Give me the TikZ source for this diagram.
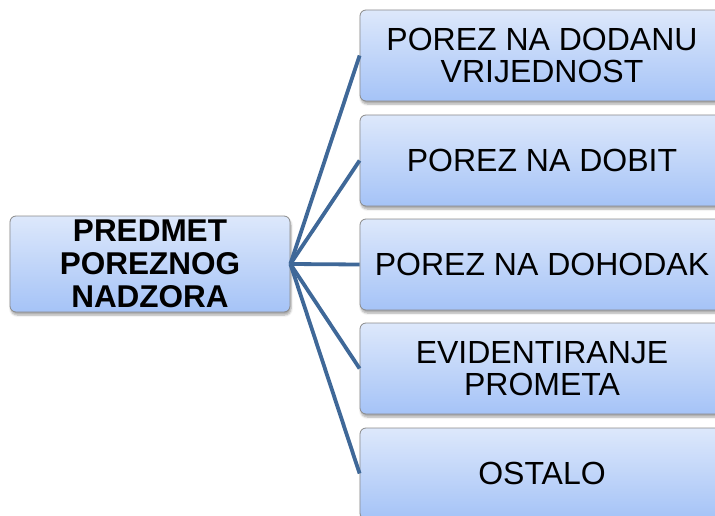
\documentclass[tikz,border=0pt]{standalone}
\usepackage{fontspec}
\setmainfont{Liberation Sans}
\usetikzlibrary{shadows.blur}
\definecolor{boxtop}{HTML}{DDE8FB}
\definecolor{boxbot}{HTML}{A5C3F7}
\definecolor{boxline}{HTML}{8A8A8A}
\definecolor{conn}{HTML}{3F6898}
\tikzset{
  box/.style={draw=boxline, line width=0.8pt, rounded corners=6pt,
    top color=boxtop, bottom color=boxbot, align=center, inner sep=0pt,
    blur shadow={shadow xshift=1pt, shadow yshift=-3pt, shadow opacity=35, shadow blur steps=6}},
  rbox/.style={box, minimum width=364pt, minimum height=91pt,
    font=\fontsize{32}{31.5}\selectfont},
  lbox/.style={box, minimum width=280pt, minimum height=96pt,
    font=\fontsize{31.5}{33}\selectfont\bfseries},
  conn/.style={draw=conn, line width=3.8pt}
}
\begin{document}
\begin{tikzpicture}[x=1pt,y=-1pt]
\useasboundingbox (0,0) rectangle (715,516);
\clip (0,0) rectangle (715,516);
\node[lbox] (L) at (150,264) {PREDMET\\POREZNOG\\NADZORA};
\node[rbox] (r1) at (542,55.5) {POREZ NA DODANU\\VRIJEDNOST};
\node[rbox] (r2) at (542,160.5) {POREZ NA DOBIT};
\node[rbox] (r3) at (542,264.5) {POREZ NA DOHODAK};
\node[rbox] (r4) at (542,368.5) {EVIDENTIRANJE\\PROMETA};
\node[rbox] (r5) at (542,473.5) {OSTALO};
\foreach \i in {1,...,5} {
  \draw[conn] (L.east) -- (r\i.west);
}
\end{tikzpicture}
\end{document}
